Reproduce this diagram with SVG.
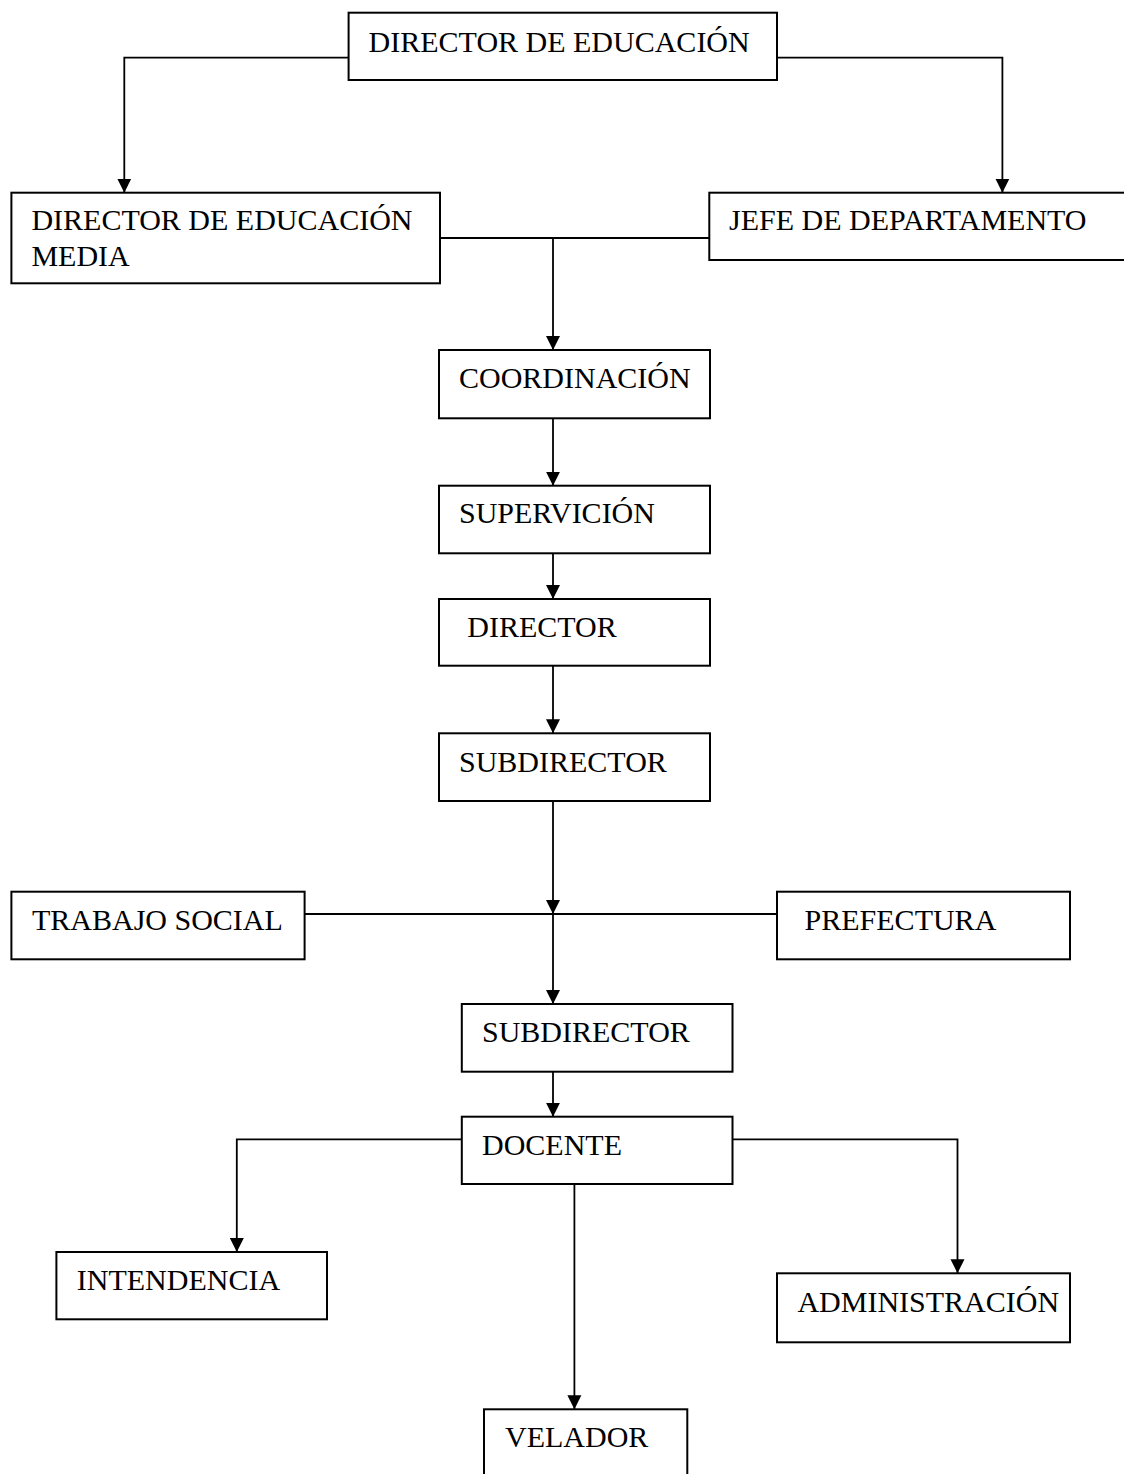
<svg xmlns="http://www.w3.org/2000/svg" width="1124" height="1474" viewBox="0 0 1124 1474">
<style>
  .box { fill: #ffffff; stroke: #000000; stroke-width: 2; }
  .lbl { font-family: "Liberation Serif", "Times New Roman", serif; font-size: 30px; fill: #000000; }
  .con { fill: none; stroke: #000000; stroke-width: 1.8; }
  .arr { fill: none; stroke: #000000; stroke-width: 1.8; marker-end: url(#ah); }
</style>
<defs>
  <marker id="ah" markerUnits="userSpaceOnUse" markerWidth="14" markerHeight="15" refX="14" refY="7" orient="auto" viewBox="0 0 14 14">
    <path d="M0,0 L14,7 L0,14 Z" fill="#000000"/>
  </marker>
</defs>
<rect width="1124" height="1474" fill="#ffffff"/>
<g id="connectors">
  <path class="arr" d="M348.6,57.7 H124.3 V192.7"/>
  <path class="arr" d="M777,57.7 H1002.4 V192.7"/>
  <path class="con" d="M440,238 H709.3"/>
  <path class="arr" d="M553,238 V350"/>
  <path class="arr" d="M553,418.3 V485.7"/>
  <path class="arr" d="M553,553.3 V599"/>
  <path class="arr" d="M553,665.7 V733.3"/>
  <path class="arr" d="M553,801 V914"/>
  <path class="con" d="M304.6,914 H777"/>
  <path class="arr" d="M553,914 V1004"/>
  <path class="arr" d="M553,1071.7 V1116.7"/>
  <path class="arr" d="M462,1139.3 H236.8 V1252"/>
  <path class="arr" d="M732.5,1139.3 H957.5 V1273.3"/>
  <path class="arr" d="M574.4,1184 V1409.3"/>
</g>
<g id="n-director-educacion">
  <rect class="box" x="348.6" y="12.7" width="428.4" height="67.3"/>
  <text class="lbl" x="368.6" y="51.7">DIRECTOR DE EDUCACIÓN</text>
</g>
<g id="n-director-media">
  <rect class="box" x="11.4" y="192.7" width="428.6" height="90.6"/>
  <text class="lbl" x="31.4" y="230">DIRECTOR DE EDUCACIÓN</text>
  <text class="lbl" x="31.4" y="266">MEDIA</text>
</g>
<g id="n-jefe">
  <rect class="box" x="709.3" y="192.7" width="430" height="67.3"/>
  <text class="lbl" x="729" y="230">JEFE DE DEPARTAMENTO</text>
</g>
<g id="n-coordinacion">
  <rect class="box" x="439" y="350" width="271" height="68.3"/>
  <text class="lbl" x="459" y="388.3">COORDINACIÓN</text>
</g>
<g id="n-supervicion">
  <rect class="box" x="439" y="485.7" width="271" height="67.6"/>
  <text class="lbl" x="459" y="522.7">SUPERVICIÓN</text>
</g>
<g id="n-director">
  <rect class="box" x="439" y="599" width="271" height="66.7"/>
  <text class="lbl" x="467.3" y="636.7">DIRECTOR</text>
</g>
<g id="n-subdirector1">
  <rect class="box" x="439" y="733.3" width="271" height="67.7"/>
  <text class="lbl" x="459" y="771.7">SUBDIRECTOR</text>
</g>
<g id="n-trabajo-social">
  <rect class="box" x="11.4" y="891.7" width="293.2" height="67.6"/>
  <text class="lbl" x="32" y="930">TRABAJO SOCIAL</text>
</g>
<g id="n-prefectura">
  <rect class="box" x="777" y="891.7" width="293" height="67.6"/>
  <text class="lbl" x="804.6" y="930">PREFECTURA</text>
</g>
<g id="n-subdirector2">
  <rect class="box" x="461.8" y="1004" width="270.7" height="67.7"/>
  <text class="lbl" x="482" y="1041.7">SUBDIRECTOR</text>
</g>
<g id="n-docente">
  <rect class="box" x="461.8" y="1116.7" width="270.7" height="67.3"/>
  <text class="lbl" x="482" y="1155">DOCENTE</text>
</g>
<g id="n-intendencia">
  <rect class="box" x="56.4" y="1252" width="270.6" height="67.3"/>
  <text class="lbl" x="76.8" y="1290">INTENDENCIA</text>
</g>
<g id="n-administracion">
  <rect class="box" x="777" y="1273.3" width="293" height="69"/>
  <text class="lbl" x="797.4" y="1312.3">ADMINISTRACIÓN</text>
</g>
<g id="n-velador">
  <rect class="box" x="484" y="1409.3" width="203.3" height="80"/>
  <text class="lbl" x="505" y="1447.3">VELADOR</text>
</g>
</svg>
